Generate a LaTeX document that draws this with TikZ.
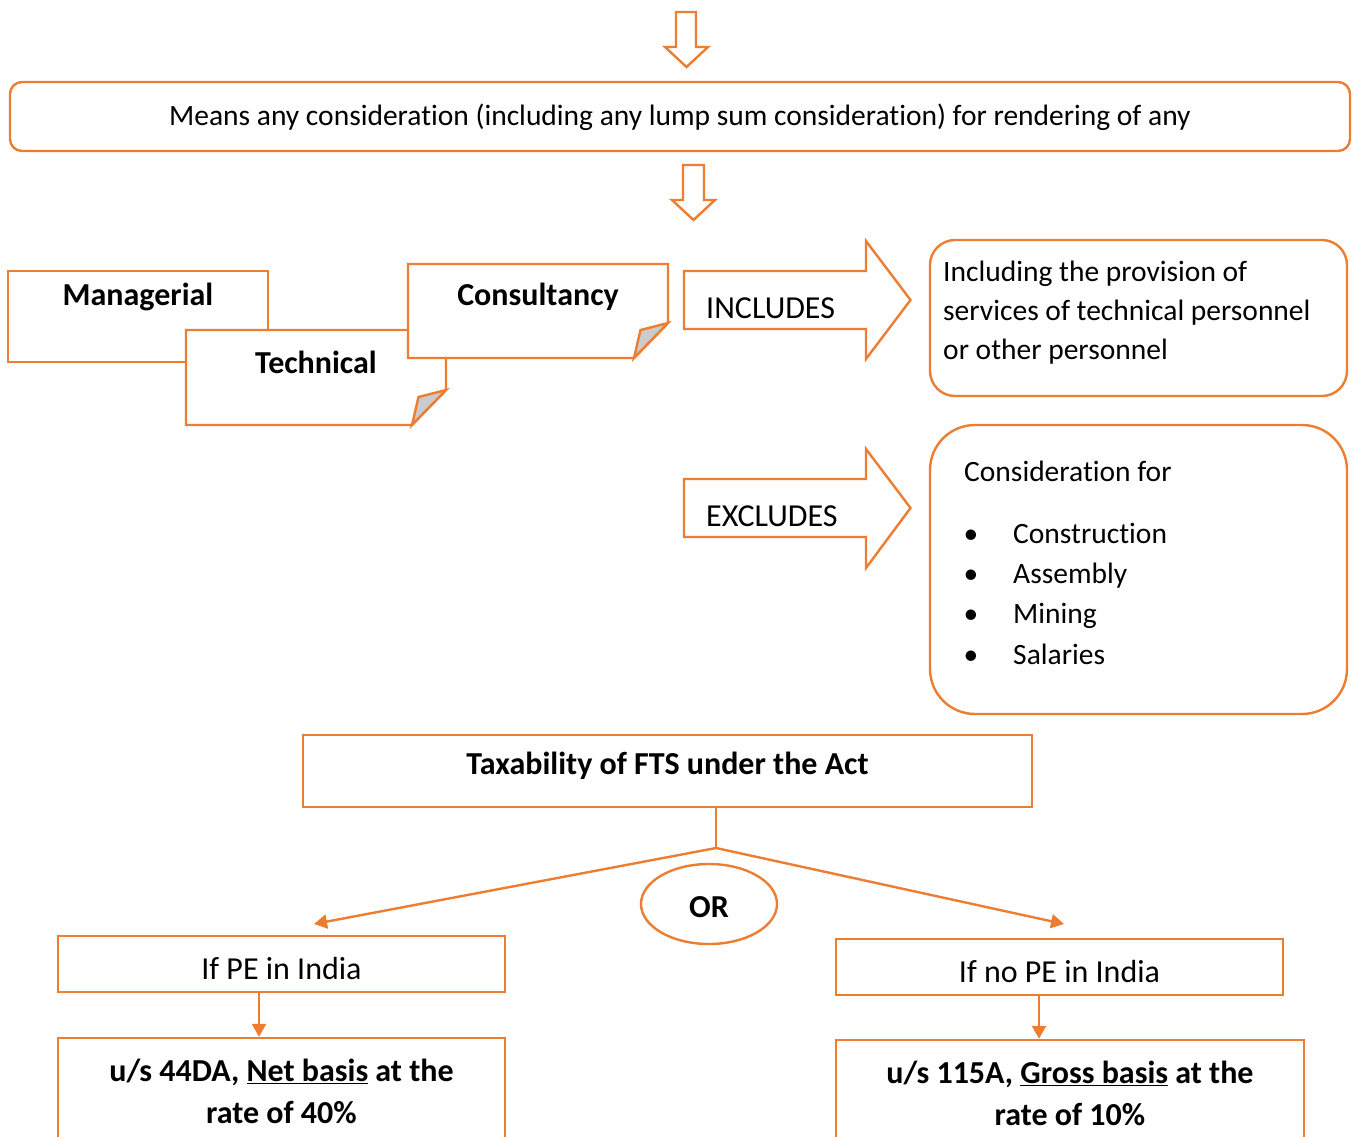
\documentclass[tikz,border=0pt]{standalone}
\usepackage{fontspec}
\setmainfont{Carlito}[Ligatures=NoCommon]
\usetikzlibrary{arrows.meta, positioning, calc, shapes.geometric}
\definecolor{ftsorange}{HTML}{ED7D31}
\definecolor{foldgrey}{HTML}{CBCBCB}
\tikzset{
  orangeline/.style = {draw=ftsorange, line width=2.4pt},
  plainbox/.style   = {orangeline, fill=white},
  foldflap/.style   = {orangeline, fill=foldgrey, line join=miter},
}

\begin{document}
\begin{tikzpicture}[
    x=1pt, y=-1pt,
    >={Triangle[length=13pt, width=14pt]},
    every node/.style ={font=\fontsize{29.5}{39}\selectfont, inner sep=0pt},
    box/.style        ={plainbox},
    roundbox/.style   ={plainbox, rounded corners=#1},
    bigtxt/.style     ={font=\fontsize{32}{39}\selectfont},
    boldtxt/.style    ={font=\fontsize{32}{42}\selectfont\bfseries},
    hollowarrow/.style={plainbox, line join=miter},
    flow/.style       ={->, orangeline}
  ]
  \clip (0,0) rectangle (1354,1136);

  %% --- Top: hollow arrow into the definition box --------------------
  \draw[hollowarrow] (676,12) -- (696,12) -- (696,47) -- (708,47) -- (686.5,67)
      -- (665,47) -- (676,47) -- cycle;
  \node[roundbox=12pt, minimum width=1340pt, minimum height=69pt] (means) at (680,116.5) {};
  \node (meanstxt) at (680,117.5)
      {Means any consideration (including any lump sum consideration) for rendering of any};
  \draw[hollowarrow] (683,165) -- (704,165) -- (704,200) -- (715,200) -- (693.5,220)
      -- (672,200) -- (683,200) -- cycle;

  %% --- Three kinds of service (overlapping notes, folded corners) ----
  \node[box, minimum width=260pt, minimum height=91pt] (managerial) at (138,316.5) {};
  \node[boldtxt] (managerialtxt) at (138,297) {Managerial};

  \draw[plainbox, line join=miter] (186,330) -- (446,330) -- (446,390) -- (412,425)
      -- (186,425) -- cycle;
  \draw[foldflap] (446,390) -- (418.5,397) -- (412,425) -- cycle;
  \node[boldtxt] (technicaltxt) at (316,362) {Technical};

  \draw[plainbox, line join=miter] (408,264) -- (668,264) -- (668,323) -- (634,358)
      -- (408,358) -- cycle;
  \draw[foldflap] (668,323) -- (640.5,330) -- (634,358) -- cycle;
  \node[boldtxt] (consultancytxt) at (538,297) {Consultancy};

  %% --- Includes / excludes ------------------------------------------
  \draw[hollowarrow] (684,271) -- (866,271) -- (866,241) -- (910.5,300) -- (866,359)
      -- (866,329) -- (684,329) -- cycle;
  \node[bigtxt, anchor=base west] (includes) at (706,318) {INCLUDES};
  \node[roundbox=25pt, minimum width=417pt, minimum height=156pt] (inclbox) at (1138.5,318) {};
  \node[anchor=west, align=left] (incltxt) at (943,313)
      {Including the provision of\\services of technical personnel\\or other personnel};

  \draw[hollowarrow] (684,479) -- (866,479) -- (866,449) -- (910.5,508) -- (866,568)
      -- (866,537) -- (684,537) -- cycle;
  \node[bigtxt, anchor=base west] (excludes) at (706,526) {EXCLUDES};
  \node[roundbox=45pt, minimum width=417pt, minimum height=289pt] (exclbox) at (1138.5,569.5) {};
  \node[anchor=west] (considertxt) at (964,471) {Consideration for};
  \foreach \item/\y in {Construction/543, Assembly/583, Mining/623, Salaries/664} {
    \node[anchor=base] (bul\y) at (971,\y) {\textbullet};
    \node[anchor=base west] (item\y) at (1013,\y) {\item};
  }

  %% --- Taxability under the Act --------------------------------------
  \node[box, minimum width=729pt, minimum height=72pt] (tax) at (667.5,771) {};
  \node[boldtxt] (taxtxt) at (667.5,766) {Taxability of FTS under the Act};
  \coordinate (split) at (716,848);
  \coordinate (lefttip) at (314,924);
  \coordinate (righttip) at (1064,924);
  \draw[orangeline] ([xshift=48.5pt]tax.south) -- (split);
  \draw[flow] (split) -- (lefttip);
  \draw[flow] (split) -- (righttip);
  \node[ellipse, orangeline, fill=white, minimum width=136pt, minimum height=80pt] (or) at (709,904) {};
  \node[boldtxt] (ortxt) at (709,907) {OR};

  %% --- Two branches ---------------------------------------------------
  \node[box, minimum width=447pt, minimum height=56pt] (ifpe) at (281.5,964) {};
  \node[bigtxt] (ifpetxt) at (281.5,968) {If PE in India};
  \node[box, minimum width=447pt, minimum height=150pt] (netbox) at (281.5,1113) {};
  \node[boldtxt, align=center] (nettxt) at (281.5,1091)
      {u/s 44DA, \underline{Net basis} at the\\rate of 40\%};
  \draw[flow] ([xshift=-22.5pt]ifpe.south) -- ([xshift=-22.5pt]ifpe.south |- netbox.north);

  \node[box, minimum width=447pt, minimum height=56pt] (ifnope) at (1059.5,967) {};
  \node[bigtxt] (ifnopetxt) at (1059.5,971) {If no PE in India};
  \node[box, minimum width=468pt, minimum height=150pt] (grossbox) at (1070,1115) {};
  \node[boldtxt, align=center] (grosstxt) at (1070,1093)
      {u/s 115A, \underline{Gross basis} at the\\rate of 10\%};
  \draw[flow] ([xshift=-20.5pt]ifnope.south) -- ([xshift=-20.5pt]ifnope.south |- grossbox.north);
\end{tikzpicture}
\end{document}
